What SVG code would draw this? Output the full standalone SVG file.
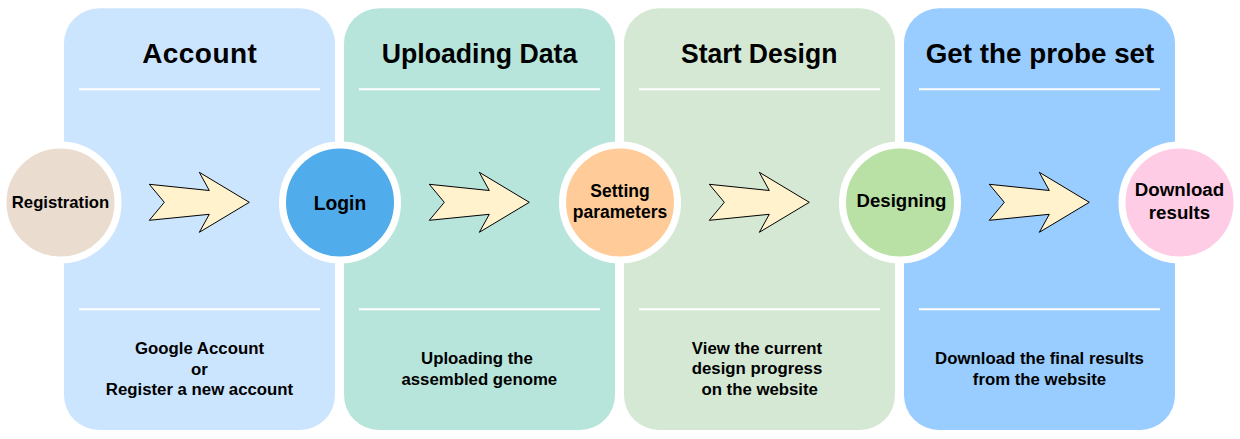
<svg xmlns="http://www.w3.org/2000/svg" width="1240" height="439" viewBox="0 0 1240 439">
<style>
.panel{stroke:none}
.sep{stroke:#ffffff;stroke-width:2;fill:none}
.title{font-family:"Liberation Sans",Arial,sans-serif;font-weight:bold;font-size:28px;fill:#000;text-anchor:middle}
.desc{font-family:"Liberation Sans",Arial,sans-serif;font-weight:bold;font-size:16.8px;fill:#000;text-anchor:middle}
.lbl{font-family:"Liberation Sans",Arial,sans-serif;font-weight:bold;fill:#000;text-anchor:middle}
.node{stroke:#ffffff;stroke-width:7}
.arrow{fill:#FFF2CC;stroke:#000;stroke-width:1;stroke-linejoin:miter}
</style>
<defs>
<polygon id="arr" class="arrow" points="149.3,184.3 209.3,190.5 199.3,172.3 249.3,202.3 199.3,232.3 209.3,214.3 149.3,220.3 164.3,202.3"/>
</defs>
<g id="panel-account">
<rect class="panel" x="64" y="8.3" width="271" height="421.7" rx="35" fill="#CCE5FF"/>
<line class="sep" x1="79" y1="89.3" x2="320" y2="89.3"/>
<line class="sep" x1="79" y1="309.3" x2="320" y2="309.3"/>
<text class="title" x="199.5" y="63" textLength="114.7">Account</text>
<text class="desc" x="199.5" y="354">Google Account</text>
<text class="desc" x="199.5" y="374.5">or</text>
<text class="desc" x="199.5" y="395">Register a new account</text>
</g>
<g id="panel-upload">
<rect class="panel" x="344" y="8.3" width="271" height="421.7" rx="35" fill="#B7E5DB"/>
<line class="sep" x1="359" y1="89.3" x2="600" y2="89.3"/>
<line class="sep" x1="359" y1="309.3" x2="600" y2="309.3"/>
<text class="title" x="479.5" y="63" textLength="195.6" lengthAdjust="spacingAndGlyphs">Uploading Data</text>
<text class="desc" x="477" y="364">Uploading the</text>
<text class="desc" x="479.3" y="384.5">assembled genome</text>
</g>
<g id="panel-design">
<rect class="panel" x="624" y="8.3" width="271" height="421.7" rx="35" fill="#D5E8D4"/>
<line class="sep" x1="639" y1="89.3" x2="880" y2="89.3"/>
<line class="sep" x1="639" y1="309.3" x2="880" y2="309.3"/>
<text class="title" x="759.2" y="63" textLength="156.3" lengthAdjust="spacingAndGlyphs">Start Design</text>
<text class="desc" x="757" y="353.5">View the current</text>
<text class="desc" x="757" y="374">design progress</text>
<text class="desc" x="759.7" y="394.5">on the website</text>
</g>
<g id="panel-get">
<rect class="panel" x="904" y="8.3" width="271" height="421.7" rx="35" fill="#99CCFF"/>
<line class="sep" x1="919" y1="89.3" x2="1160" y2="89.3"/>
<line class="sep" x1="919" y1="309.3" x2="1160" y2="309.3"/>
<text class="title" x="1040" y="63" textLength="228.7" lengthAdjust="spacingAndGlyphs">Get the probe set</text>
<text class="desc" x="1039.5" y="363.5">Download the final results</text>
<text class="desc" x="1039.5" y="384.5">from the website</text>
</g>
<g id="connectors">
<use href="#arr"/>
<use href="#arr" x="280"/>
<use href="#arr" x="560"/>
<use href="#arr" x="840"/>
</g>
<g id="node-registration">
<circle class="node" cx="60.5" cy="202.5" r="57.5" fill="#EADCCF"/>
<text class="lbl" x="60.5" y="207.5" font-size="16.7">Registration</text>
</g>
<g id="node-login">
<circle class="node" cx="340" cy="202.5" r="57.5" fill="#50ACEA"/>
<text class="lbl" x="340" y="210" font-size="19.3">Login</text>
</g>
<g id="node-setting">
<circle class="node" cx="620" cy="202.5" r="57.5" fill="#FFCC99"/>
<text class="lbl" x="620" y="196.7" font-size="17.5">Setting</text>
<text class="lbl" x="620" y="218.3" font-size="17.5">parameters</text>
</g>
<g id="node-designing">
<circle class="node" cx="900" cy="202.5" r="57.5" fill="#B9E0A5"/>
<text class="lbl" x="901.5" y="207.3" font-size="18.6">Designing</text>
</g>
<g id="node-download">
<circle class="node" cx="1179.5" cy="202.5" r="57.5" fill="#FFCCE6"/>
<text class="lbl" x="1179.5" y="196" font-size="18.7">Download</text>
<text class="lbl" x="1179.5" y="219.3" font-size="18.7">results</text>
</g>
</svg>
